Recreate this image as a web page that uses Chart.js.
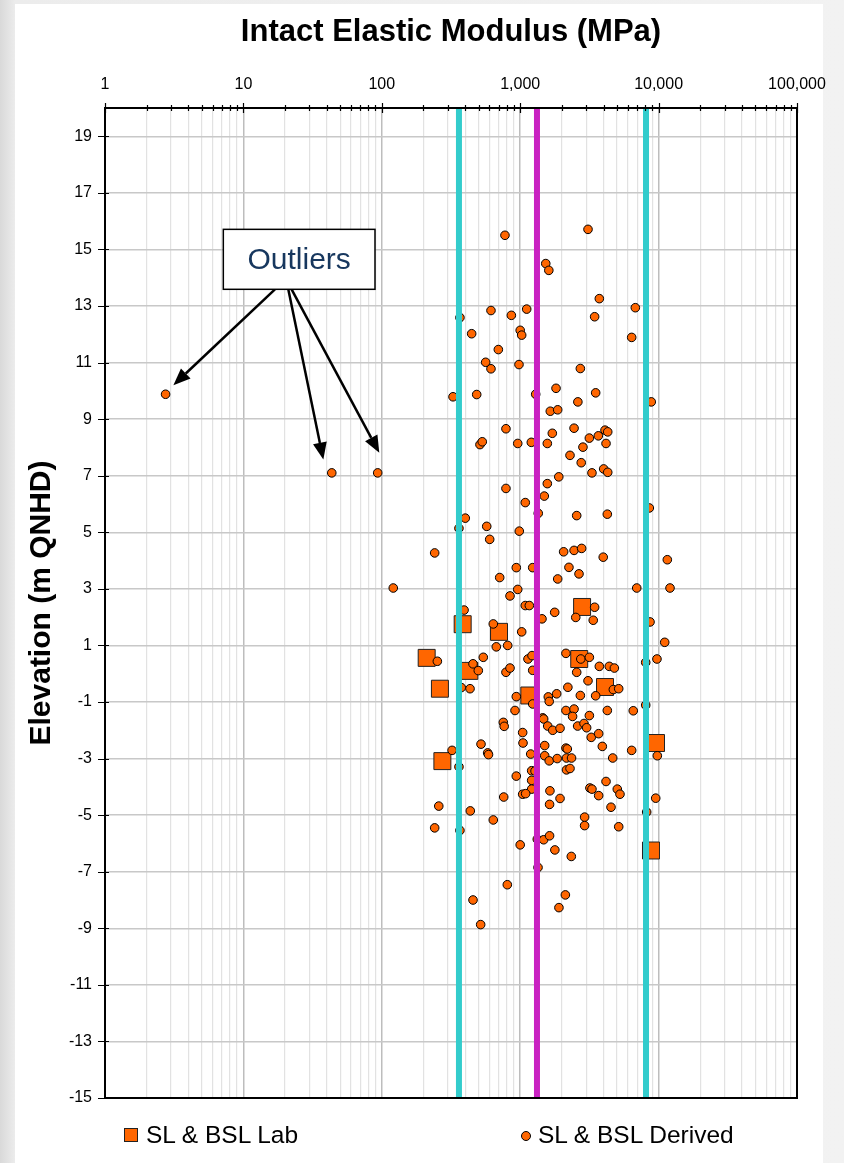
<!DOCTYPE html>
<html>
<head>
<meta charset="utf-8">
<title>Intact Elastic Modulus</title>
<script src="https://cdn.jsdelivr.net/npm/chart.js@4/dist/chart.umd.min.js"></script>
<style>
  html, body { margin: 0; padding: 0; }
  body {
    width: 844px; height: 1163px; position: relative; overflow: hidden;
    background: linear-gradient(to right, #d9d9d9 0px, #ececec 15px, #f2f2f2 100%);
    font-family: "Liberation Sans", Arial, sans-serif;
  }
  #panel { position: absolute; left: 15px; top: 4px; width: 808px; height: 1159px; background: #fff; }
  #chart { position: absolute; left: 0; top: 0; }
  .key { position: absolute; font-size: 24.5px; line-height: 28px; color: #000; white-space: nowrap; }
  .sq { position: absolute; width: 12px; height: 12px; background: #FF6600; border: 1px solid #222; }
  .dot { position: absolute; width: 8px; height: 8px; background: #FF6600; border: 1px solid #000; border-radius: 50%; }
</style>
</head>
<body>
<div id="panel"></div>
<canvas id="chart" width="844" height="1163"></canvas>
<div class="sq" style="left:124px; top:1128px;"></div>
<div class="key" style="left:146px; top:1121px;">SL &amp; BSL Lab</div>
<div class="dot" style="left:521px; top:1131px;"></div>
<div class="key" style="left:538px; top:1121px;">SL &amp; BSL Derived</div>
<script>
// modulus (MPa), elevation (m QNHD)
const labPoints = [
    [2800, 2.36], [384, 1.75], [703, 1.48], [211, 0.56], [429, 0.1], [2670, 0.52],
    [263, -0.53], [4100, -0.47], [1164, -0.77], [274, -3.09], [9580, -2.45], [8810, -6.25]
];

const derivedPoints = [
    [776, 15.5], [3090, 15.71], [1530, 14.5], [1610, 14.26], [3730, 13.26], [6790, 12.94],
    [367, 12.59], [615, 12.84], [863, 12.67], [1114, 12.89], [3450, 12.62], [446, 12.02],
    [1000, 12.14], [1025, 11.97], [6390, 11.89], [695, 11.46], [563, 11.01], [615, 10.78],
    [980, 10.93], [2720, 10.79], [327, 9.79], [485, 9.87], [1294, 9.88], [1815, 10.09],
    [3510, 9.93], [8850, 9.61], [2610, 9.61], [1650, 9.28], [1866, 9.33], [789, 8.66],
    [512, 8.1], [532, 8.2], [960, 8.14], [1203, 8.18], [1570, 8.14], [1706, 8.5],
    [2450, 8.68], [3160, 8.33], [3670, 8.41], [4100, 8.61], [4290, 8.55], [4170, 8.14],
    [2840, 8.01], [2290, 7.72], [2760, 7.46], [3300, 7.1], [4010, 7.24], [4290, 7.12],
    [1900, 6.96], [1570, 6.72], [789, 6.55], [1493, 6.28], [1088, 6.05],
    [1350, 5.67], [2560, 5.59], [4260, 5.64], [8570, 5.86], [401, 5.5], [361, 5.14],
    [573, 5.21], [602, 4.75], [985, 5.04], [241, 4.27], [2060, 4.31], [2450, 4.36],
    [2780, 4.43], [3980, 4.12], [11560, 4.03], [937, 3.75], [1231, 3.75], [2250, 3.76],
    [2660, 3.53], [711, 3.4], [1866, 3.35], [121, 3.03], [6950, 3.03], [12090, 3.03],
    [960, 2.98], [844, 2.75], [1088, 2.41], [1164, 2.41], [1775, 2.17], [1437, 1.94],
    [2520, 1.99], [3450, 2.35], [3370, 1.89], [393, 2.25], [639, 1.76], [1025, 1.48],
    [8670, 1.83], [11070, 1.11], [252, 0.44], [672, 0.95], [812, 1.0], [541, 0.58],
    [456, 0.35], [498, 0.11], [789, 0.05], [844, 0.2], [1138, 0.52], [1217, 0.64],
    [1231, 0.12], [2140, 0.72], [2740, 0.52], [3160, 0.58], [2560, 0.05], [3730, 0.26],
    [4400, 0.26], [4790, 0.2], [8070, 0.4], [9730, 0.52], [3090, -0.25], [375, -0.49],
    [434, -0.53], [4710, -0.56], [5150, -0.53], [2210, -0.48], [2720, -0.77], [3510, -0.78],
    [937, -0.81], [1231, -1.07], [1596, -0.82], [1620, -0.98], [1835, -0.71], [917, -1.3],
    [2140, -1.3], [2450, -1.25], [2390, -1.51], [3160, -1.48], [4260, -1.3], [6560, -1.31],
    [8070, -1.11], [1455, -1.56], [1478, -1.6], [755, -1.72], [766, -1.86], [1580, -1.85],
    [1718, -2.0], [1940, -1.93], [2600, -1.85], [2890, -1.76], [3020, -1.91], [1042, -2.08],
    [1048, -2.45], [3260, -2.25], [3690, -2.12], [521, -2.49], [322, -2.71], [361, -3.29],
    [582, -2.8], [590, -2.86], [1191, -2.84], [1503, -2.54], [1503, -2.9], [1620, -3.08],
    [1850, -3.0], [2140, -2.63], [2190, -2.66], [2160, -2.98], [2350, -2.98], [3920, -2.57],
    [4660, -2.98], [6390, -2.71], [9790, -2.9], [937, -3.62], [1210, -3.43], [1280, -3.44],
    [2160, -3.4], [2290, -3.35], [4170, -3.81], [1210, -3.77], [1210, -4.08], [1042, -4.26],
    [1095, -4.24], [760, -4.36], [1640, -4.14], [1940, -4.41], [1630, -4.62], [3190, -4.04],
    [3300, -4.08], [3690, -4.31], [5030, -4.08], [5260, -4.26], [4530, -4.72], [9530, -4.4],
    [8200, -4.89], [258, -4.68], [436, -4.85], [241, -5.45], [367, -5.54], [639, -5.17],
    [2920, -5.07], [2920, -5.37], [5150, -5.41], [1329, -5.85], [1478, -5.87], [1630, -5.73],
    [1000, -6.05], [1780, -6.23], [2340, -6.46], [1345, -6.85], [807, -7.46], [2120, -7.82],
    [1905, -8.27], [456, -8.0], [518, -8.87],
    // outliers
    [2.74, 9.88], [43.5, 7.1], [93.4, 7.1]
];

const boundLines = [361, 8110];   // cyan
const centreLine = 1322;          // magenta

const xDecades = [1, 10, 100, 1000, 10000, 100000];
const xTickLabels = ['1', '10', '100', '1,000', '10,000', '100,000'];
const yTicks = [-15, -13, -11, -9, -7, -5, -3, -1, 1, 3, 5, 7, 9, 11, 13, 15, 17, 19];

// callout in data coordinates
const callout = {
    text: 'Outliers',
    box: { x1: 7.16, x2: 89.3, y1: 15.71, y2: 13.59 },
    arrows: [
        { from: [16.9, 13.59], to: [3.12, 10.2] },
        { from: [21.1, 13.59], to: [37.8, 7.57] },
        { from: [22.3, 13.59], to: [95.9, 7.81] }
    ]
};

const FONT = '"Liberation Sans", Arial, sans-serif';

function toXY(arr) {
    return arr.map((p) => ({ x: p[0], y: p[1] }));
}

function vline(v) {
    return [{ x: v, y: 20 }, { x: v, y: -15 }];
}

function drawArrow(ctx, x0, y0, x1, y1) {
    const ang = Math.atan2(y1 - y0, x1 - x0);
    const len = 17, half = 7;
    const bx = x1 - len * Math.cos(ang), by = y1 - len * Math.sin(ang);
    ctx.beginPath();
    ctx.moveTo(x0, y0);
    ctx.lineTo(bx, by);
    ctx.stroke();
    ctx.beginPath();
    ctx.moveTo(x1, y1);
    ctx.lineTo(bx + half * Math.sin(ang), by - half * Math.cos(ang));
    ctx.lineTo(bx - half * Math.sin(ang), by + half * Math.cos(ang));
    ctx.closePath();
    ctx.fill();
}

const frameAndNotes = {
    id: 'frameAndNotes',
    afterDraw(chart) {
        const { ctx, chartArea: a, scales: { x, y } } = chart;
        ctx.save();
        // tick marks crossing the axes
        ctx.strokeStyle = '#000';
        ctx.lineWidth = 1.2;
        ctx.beginPath();
        x.ticks.forEach((t) => {
            const px = Math.round(x.getPixelForValue(t.value)) + 0.5;
            const big = xDecades.includes(t.value) ? 5 : 3;
            ctx.moveTo(px, a.top - big);
            ctx.lineTo(px, a.top + big);
        });
        y.ticks.forEach((t) => {
            const py = Math.round(y.getPixelForValue(t.value)) + 0.5;
            ctx.moveTo(a.left - 7, py);
            ctx.lineTo(a.left + 4, py);
        });
        ctx.stroke();
        ctx.lineWidth = 2;
        ctx.strokeRect(a.left, a.top, a.right - a.left, a.bottom - a.top);

        // outlier callout
        const b = callout.box;
        const bx1 = x.getPixelForValue(b.x1), bx2 = x.getPixelForValue(b.x2);
        const by1 = y.getPixelForValue(b.y1), by2 = y.getPixelForValue(b.y2);
        ctx.fillStyle = '#000';
        ctx.lineWidth = 2.5;
        callout.arrows.forEach((ar) => {
            drawArrow(ctx, x.getPixelForValue(ar.from[0]), y.getPixelForValue(ar.from[1]),
                x.getPixelForValue(ar.to[0]), y.getPixelForValue(ar.to[1]));
        });
        ctx.fillStyle = '#fff';
        ctx.fillRect(bx1, by1, bx2 - bx1, by2 - by1);
        ctx.lineWidth = 1.5;
        ctx.strokeRect(bx1, by1, bx2 - bx1, by2 - by1);
        ctx.fillStyle = '#17375E';
        ctx.font = '30px ' + FONT;
        ctx.textAlign = 'center';
        ctx.textBaseline = 'middle';
        ctx.fillText(callout.text, (bx1 + bx2) / 2, (by1 + by2) / 2 + 1);
        ctx.restore();
    }
};

const ctx = document.getElementById('chart').getContext('2d');
new Chart(ctx, {
    type: 'scatter',
    data: {
        datasets: [
            {
                type: 'line', label: 'lower', data: vline(boundLines[0]),
                borderColor: '#33CCCC', borderWidth: 6, pointRadius: 0, order: 0
            },
            {
                type: 'line', label: 'centre', data: vline(centreLine),
                borderColor: '#C922C2', borderWidth: 6, pointRadius: 0, order: 0
            },
            {
                type: 'line', label: 'upper', data: vline(boundLines[1]),
                borderColor: '#33CCCC', borderWidth: 6, pointRadius: 0, order: 0
            },
            {
                label: 'SL & BSL Derived', data: toXY(derivedPoints),
                pointStyle: 'circle', pointRadius: 4.3, borderWidth: 1,
                backgroundColor: '#FF6600', borderColor: '#000', order: 1
            },
            {
                label: 'SL & BSL Lab', data: toXY(labPoints),
                pointStyle: 'rect', pointRadius: 12, borderWidth: 1,
                backgroundColor: '#FF6600', borderColor: '#222', order: 2
            }
        ]
    },
    options: {
        responsive: false,
        animation: false,
        layout: { padding: { left: 20, top: 0, right: 47, bottom: 65 } },
        plugins: {
            legend: { display: false },
            tooltip: { enabled: false }
        },
        scales: {
            x: {
                type: 'logarithmic',
                position: 'top',
                min: 1,
                max: 100000,
                afterBuildTicks: (scale) => {
                    const ticks = [];
                    for (let e = 0; e < 5; e++) {
                        for (let m = 1; m < 10; m++) ticks.push({ value: m * Math.pow(10, e) });
                    }
                    ticks.push({ value: 100000 });
                    scale.ticks = ticks;
                },
                afterFit: (scale) => { scale.height = 108; },
                ticks: {
                    autoSkip: false, maxRotation: 0, minRotation: 0, padding: 14,
                    color: '#000', font: { family: FONT, size: 16 },
                    callback: (v) => {
                        const i = xDecades.indexOf(v);
                        return i >= 0 ? xTickLabels[i] : '';
                    }
                },
                grid: {
                    drawTicks: false,
                    color: (c) => (c.tick && xDecades.includes(c.tick.value)) ? '#bdbdbd' : '#e2e2e2',
                    lineWidth: (c) => (c.tick && xDecades.includes(c.tick.value)) ? 1.5 : 1.2
                },
                border: { display: false },
                title: {
                    display: true, text: 'Intact Elastic Modulus (MPa)', color: '#000',
                    font: { family: FONT, size: 31, weight: 'bold' },
                    padding: { top: 14, bottom: 0 }
                }
            },
            y: {
                type: 'linear',
                min: -15,
                max: 20,
                afterBuildTicks: (scale) => { scale.ticks = yTicks.map((v) => ({ value: v })); },
                afterFit: (scale) => { scale.width = 85; },
                ticks: {
                    autoSkip: false, padding: 13, color: '#000',
                    font: { family: FONT, size: 16 }
                },
                grid: { drawTicks: false, color: '#c8c8c8', lineWidth: 1.5 },
                border: { display: false },
                title: {
                    display: true, text: 'Elevation (m QNHD)', color: '#000',
                    font: { family: FONT, size: 30, weight: 'bold' },
                    padding: { top: 4, bottom: 0 }
                }
            }
        }
    },
    plugins: [frameAndNotes]
});
</script>
</body>
</html>
